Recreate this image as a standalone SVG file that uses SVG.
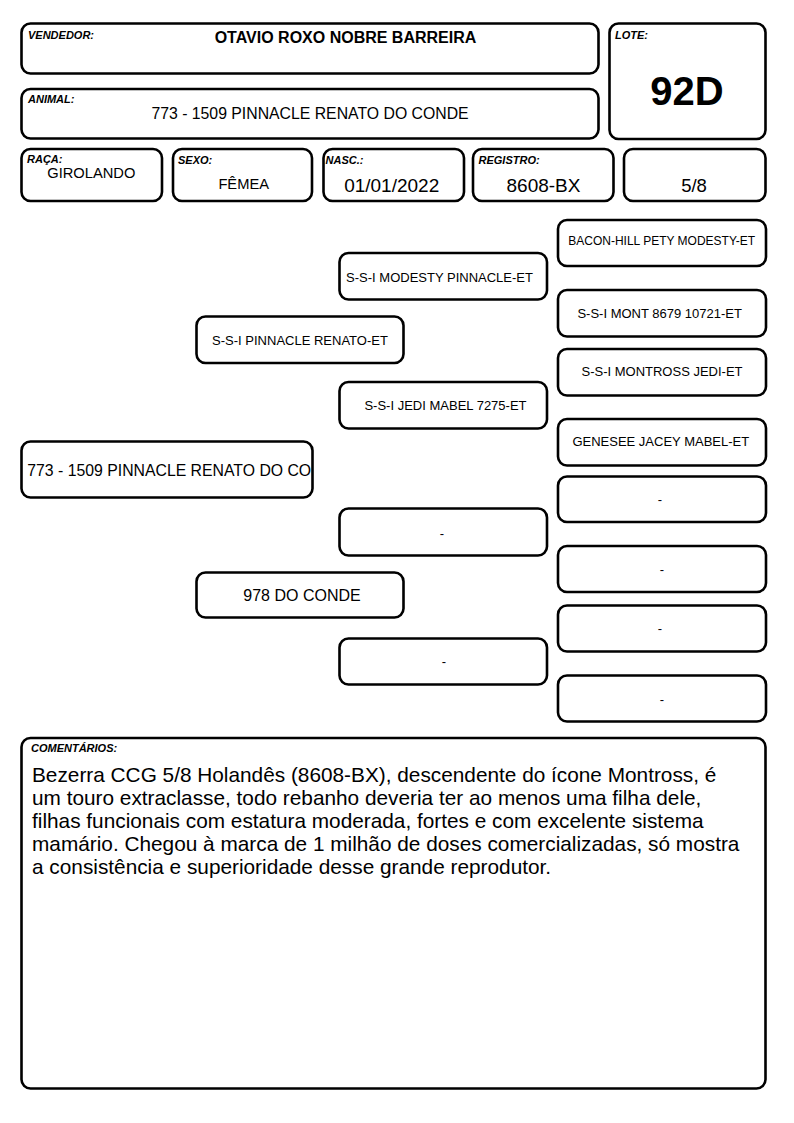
<svg xmlns="http://www.w3.org/2000/svg" width="794" height="1123" viewBox="0 0 794 1123">
<style>
  .box { fill: #fff; stroke: #000; stroke-width: 2.6; }
  .lbl { font-family: "Liberation Sans", Arial, sans-serif; font-size: 11px; font-weight: bold; font-style: italic; fill: #000; }
  .t { font-family: "Liberation Sans", Arial, sans-serif; fill: #000; text-anchor: middle; }
  .p { font-family: "Liberation Sans", Arial, sans-serif; fill: #000; text-anchor: middle; font-size: 13px; }
  .big { font-size: 16px; }
  .small { font-size: 12px; }
</style>
<defs>
  <clipPath id="c0"><rect x="22.8" y="442.8" width="288.4" height="53.4"/></clipPath>
</defs>
<rect width="794" height="1123" fill="#fff"/>

<g id="vendedor">
  <rect class="box" x="21.5" y="23.5" width="577" height="50" rx="9"/>
  <text class="lbl" x="28" y="39">VENDEDOR:</text>
  <text class="t" x="345.5" y="43" font-size="16" font-weight="bold">OTAVIO ROXO NOBRE BARREIRA</text>
</g>
<g id="animal">
  <rect class="box" x="21.5" y="89" width="577" height="49.5" rx="9"/>
  <text class="lbl" x="28" y="103">ANIMAL:</text>
  <text class="t" x="310" y="119" font-size="15.8">773 - 1509 PINNACLE RENATO DO CONDE</text>
</g>
<g id="lote">
  <rect class="box" x="609.5" y="23.5" width="156" height="115.5" rx="9"/>
  <text class="lbl" x="615" y="39">LOTE:</text>
  <text class="t" x="687" y="105" font-size="40" font-weight="bold">92D</text>
</g>
<g id="raca">
  <rect class="box" x="21.5" y="149" width="140.5" height="52" rx="9"/>
  <text class="lbl" x="27" y="163">RAÇA:</text>
  <text class="t" x="91.3" y="178" font-size="14.7">GIROLANDO</text>
</g>
<g id="sexo">
  <rect class="box" x="173" y="149" width="139" height="52" rx="9"/>
  <text class="lbl" x="178" y="164">SEXO:</text>
  <text class="t" x="243.7" y="189" font-size="14.7">FÊMEA</text>
</g>
<g id="nasc">
  <rect class="box" x="323.5" y="149" width="140.5" height="52" rx="9"/>
  <text class="lbl" x="325.5" y="164">NASC.:</text>
  <text class="t" x="391.7" y="192" font-size="19">01/01/2022</text>
</g>
<g id="registro">
  <rect class="box" x="473" y="149" width="140.5" height="52" rx="9"/>
  <text class="lbl" x="478.5" y="164">REGISTRO:</text>
  <text class="t" x="543.5" y="192" font-size="19">8608-BX</text>
</g>
<g id="grau">
  <rect class="box" x="624" y="149" width="141.5" height="52" rx="9"/>
  <text class="t" x="694" y="192" font-size="18.5">5/8</text>
</g>

<g id="connectors"></g>

<g id="n-animal">
  <rect class="box" x="21.5" y="441.5" width="291" height="56" rx="9"/>
  <text class="t" x="27.3" y="475.7" font-size="15.8" style="text-anchor:start" clip-path="url(#c0)">773 - 1509 PINNACLE RENATO DO CONDE</text>
</g>
<g id="n-pai">
  <rect class="box" x="196.5" y="316.5" width="207" height="46.5" rx="9"/>
  <text class="p" x="300" y="345">S-S-I PINNACLE RENATO-ET</text>
</g>
<g id="n-mae">
  <rect class="box" x="196.5" y="572.5" width="207" height="45" rx="9"/>
  <text class="p big" x="302" y="601">978 DO CONDE</text>
</g>
<g id="n-avo-pp">
  <rect class="box" x="339.5" y="253" width="207.5" height="46.5" rx="9"/>
  <text class="p" x="439.5" y="281.7">S-S-I MODESTY PINNACLE-ET</text>
</g>
<g id="n-avo-pm">
  <rect class="box" x="339.5" y="382" width="207.5" height="46.5" rx="9"/>
  <text class="p" x="445.5" y="410">S-S-I JEDI MABEL 7275-ET</text>
</g>
<g id="n-avo-mp">
  <rect class="box" x="339.5" y="508.5" width="207.5" height="47" rx="9"/>
  <text class="p" x="442" y="538">-</text>
</g>
<g id="n-avo-mm">
  <rect class="box" x="339.5" y="638.5" width="207.5" height="46" rx="9"/>
  <text class="p" x="444" y="666">-</text>
</g>
<g id="n-bis-1">
  <rect class="box" x="558" y="220" width="208" height="46" rx="9"/>
  <text class="p small" x="661.7" y="245">BACON-HILL PETY MODESTY-ET</text>
</g>
<g id="n-bis-2">
  <rect class="box" x="558" y="290" width="208" height="46.5" rx="9"/>
  <text class="p" x="659.7" y="318">S-S-I MONT 8679 10721-ET</text>
</g>
<g id="n-bis-3">
  <rect class="box" x="558" y="349" width="208" height="46.5" rx="9"/>
  <text class="p" x="662" y="376">S-S-I MONTROSS JEDI-ET</text>
</g>
<g id="n-bis-4">
  <rect class="box" x="558" y="419" width="208" height="46.5" rx="9"/>
  <text class="p" x="660.8" y="445.7">GENESEE JACEY MABEL-ET</text>
</g>
<g id="n-bis-5">
  <rect class="box" x="558" y="476.5" width="208" height="45.5" rx="9"/>
  <text class="p" x="660" y="504">-</text>
</g>
<g id="n-bis-6">
  <rect class="box" x="558" y="546" width="208" height="46" rx="9"/>
  <text class="p" x="662" y="574">-</text>
</g>
<g id="n-bis-7">
  <rect class="box" x="558" y="605.5" width="208" height="46" rx="9"/>
  <text class="p" x="660" y="633">-</text>
</g>
<g id="n-bis-8">
  <rect class="box" x="558" y="675.5" width="208" height="46" rx="9"/>
  <text class="p" x="662" y="704">-</text>
</g>

<g id="comentarios">
  <rect class="box" x="21.5" y="738" width="744" height="350.5" rx="9"/>
  <text class="lbl" x="31" y="752.3">COMENTÁRIOS:</text>
  <text font-family="Liberation Sans, Arial, sans-serif" font-size="20.8" fill="#000">
    <tspan x="32" y="781.5">Bezerra CCG 5/8 Holandês (8608-BX), descendente do ícone Montross, é</tspan>
    <tspan x="32" y="804.5">um touro extraclasse, todo rebanho deveria ter ao menos uma filha dele,</tspan>
    <tspan x="32" y="827.5">filhas funcionais com estatura moderada, fortes e com excelente sistema</tspan>
    <tspan x="32" y="850.5">mamário. Chegou à marca de 1 milhão de doses comercializadas, só mostra</tspan>
    <tspan x="32" y="873.5">a consistência e superioridade desse grande reprodutor.</tspan>
  </text>
</g>
</svg>
